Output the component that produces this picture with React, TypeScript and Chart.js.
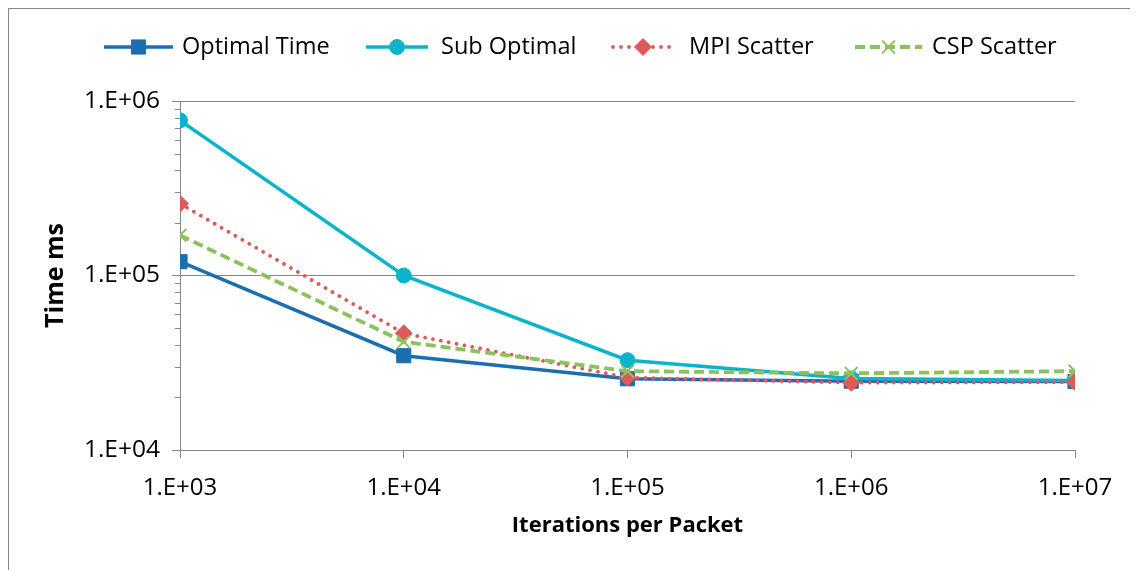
import React, { useEffect, useRef } from 'react';
import { Chart, registerables } from 'chart.js';
import { drawPoint } from 'chart.js/helpers';

Chart.register(...registerables);

// ---- data ----
const iterations = [1e3, 1e4, 1e5, 1e6, 1e7];
const xTickLabels = ['1.E+03', '1.E+04', '1.E+05', '1.E+06', '1.E+07'];
const yTickValues = [1e4, 1e5, 1e6];
const yTickLabels = ['1.E+04', '1.E+05', '1.E+06'];
const yMinorValues = [2e4, 3e4, 4e4, 5e4, 6e4, 7e4, 8e4, 9e4, 2e5, 3e5, 4e5, 5e5, 6e5, 7e5, 8e5, 9e5];
const seriesNames = ['Optimal Time', 'Sub Optimal', 'MPI Scatter', 'CSP Scatter'];
const optimalTime = [120000, 34700, 25600, 24800, 24700];
const subOptimal = [775000, 100000, 32700, 25700, 25000];
const mpiScatter = [258000, 46600, 26000, 24300, 24500];
const cspScatter = [170000, 41700, 28300, 27500, 28300];

// ---- styles ----
const colors = ['#1B6FAE', '#0BB4CC', '#E0595A', '#8CC25E'];
const pointStyles = ['rect', 'circle', 'rectRot', 'crossRot'];
const pointRadii = [10, 7.5, 8.5, 9];
const dashes: number[][] = [[], [], [0.01, 8], [10, 5]];
const lineWidths = [3.5, 3.5, 3.8, 3.8];
const legendLayout = [
  { x0: 95, x1: 164, tx: 173 },
  { x0: 357, x1: 419, tx: 432 },
  { x0: 604, x1: 664, tx: 680 },
  { x0: 846, x1: 913, tx: 923 },
];
const GRID = '#878787';
const FONT = '"Open Sans", "Noto Sans", sans-serif';

const allSeries = [optimalTime, subOptimal, mpiScatter, cspScatter];

const extrasPlugin = {
  id: 'extras',
  afterDraw(chart: any) {
    const ctx = chart.ctx;
    const ys = chart.scales.y;
    ctx.save();
    // minor ticks on y axis
    ctx.strokeStyle = GRID;
    ctx.lineWidth = 1;
    ctx.beginPath();
    yMinorValues.forEach((v) => {
      const py = Math.round(ys.getPixelForValue(v)) + 0.5;
      ctx.moveTo(ys.right - 5, py);
      ctx.lineTo(ys.right, py);
    });
    ctx.stroke();
    // legend
    const ly = 38;
    seriesNames.forEach((name, i) => {
      const L = legendLayout[i];
      ctx.save();
      ctx.strokeStyle = colors[i];
      ctx.lineWidth = lineWidths[i];
      ctx.lineCap = i === 2 ? 'round' : 'butt';
      ctx.setLineDash(dashes[i]);
      ctx.beginPath();
      ctx.moveTo(L.x0, ly);
      ctx.lineTo(L.x1, ly);
      ctx.stroke();
      ctx.restore();
      ctx.save();
      ctx.fillStyle = colors[i];
      ctx.strokeStyle = colors[i];
      ctx.lineWidth = i === 3 ? 2 : 1;
      drawPoint(ctx, { pointStyle: pointStyles[i], radius: pointRadii[i], rotation: 0, borderWidth: i === 3 ? 2 : 1 } as any, (L.x0 + L.x1) / 2, ly);
      ctx.restore();
      ctx.fillStyle = '#000';
      ctx.font = `23.5px ${FONT}`;
      ctx.textBaseline = 'middle';
      ctx.textAlign = 'left';
      ctx.fillText(name, L.tx, ly);
    });
    ctx.restore();
  },
};

export default function App() {
  const ref = useRef<HTMLCanvasElement>(null);
  useEffect(() => {
    document.body.style.overflow = 'hidden';
    const canvas = ref.current!;
    const chart = new Chart(canvas, {
      type: 'line',
      data: {
        datasets: seriesNames.map((name, i) => ({
          label: name,
          data: iterations.map((x, j) => ({ x, y: allSeries[i][j] })),
          borderColor: colors[i],
          backgroundColor: colors[i],
          borderWidth: lineWidths[i],
          borderDash: dashes[i],
          borderCapStyle: i === 2 ? 'round' : 'butt',
          pointStyle: pointStyles[i] as any,
          pointRadius: pointRadii[i],
          pointBorderWidth: i === 3 ? 2 : 1,
          pointBorderColor: colors[i],
          pointBackgroundColor: colors[i],
          tension: 0,
          fill: false,
          order: 4 - i,
        })),
      },
      options: {
        responsive: false,
        animation: false,
        layout: { padding: { top: 92, right: 62, left: 0, bottom: 0 } },
        plugins: { legend: { display: false }, tooltip: { enabled: false } },
        scales: {
          x: {
            type: 'logarithmic',
            min: 1e3,
            max: 1e7,
            afterBuildTicks: (s: any) => {
              s.ticks = iterations.map((v) => ({ value: v }));
            },
            afterFit: (s: any) => {
              s.height = 104;
            },
            ticks: {
              autoSkip: false,
              maxRotation: 0,
              padding: 16,
              color: '#000',
              font: { family: FONT, size: 24 },
              callback: (_v: any, idx: number) => xTickLabels[idx],
            },
            grid: { drawOnChartArea: false, color: GRID, tickColor: GRID, tickLength: 8, lineWidth: 1 },
            border: { display: true, color: GRID, width: 1 },
            title: {
              display: true,
              text: 'Iterations per Packet',
              color: '#000',
              font: { family: FONT, size: 22, weight: 'bold' },
              padding: { top: 0, bottom: 15 },
            },
          },
          y: {
            type: 'logarithmic',
            min: 1e4,
            max: 1e6,
            afterBuildTicks: (s: any) => {
              s.ticks = yTickValues.map((v) => ({ value: v }));
            },
            afterFit: (s: any) => {
              s.width = 171;
            },
            ticks: {
              autoSkip: false,
              padding: 12,
              color: '#000',
              font: { family: FONT, size: 24.5 },
              callback: (_v: any, idx: number) => yTickLabels[idx],
            },
            grid: { color: GRID, tickColor: GRID, tickLength: 8, lineWidth: 1 },
            border: { display: true, color: GRID, width: 1 },
            title: {
              display: true,
              text: 'Time ms',
              color: '#000',
              font: { family: FONT, size: 25, weight: 'bold' },
              padding: { top: 32, bottom: 0 },
            },
          },
        },
      },
      plugins: [extrasPlugin],
    });
    return () => chart.destroy();
  }, []);
  return (
    <div style={{ borderLeft: `1px solid ${GRID}`, borderTop: `1px solid ${GRID}`, width: 1129, height: 562 }}>
      <canvas ref={ref} width={1128} height={545} style={{ display: 'block' }} />
    </div>
  );
}
